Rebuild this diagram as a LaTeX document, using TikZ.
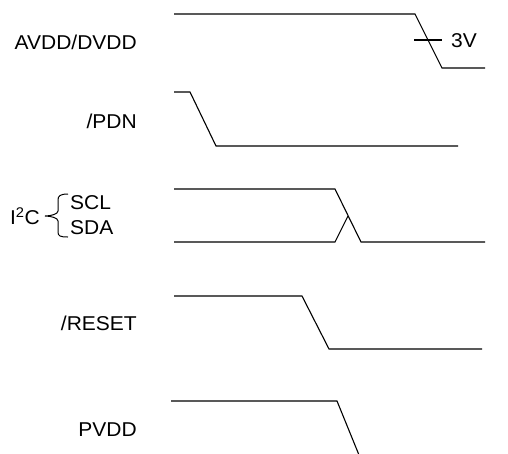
\documentclass[tikz,border=0pt]{standalone}
\usepackage{fontspec}
\setmainfont{Liberation Sans}
\usetikzlibrary{positioning}
\tikzset{
    signame/.style={anchor=east, inner sep=0pt, font=\fontsize{20}{24}\selectfont, xscale=1.05},
    busname/.style={anchor=west, inner sep=0pt, font=\fontsize{20}{24}\selectfont, xscale=1.05},
    wave/.style={draw, line width=1.1pt, line join=miter}
}
\begin{document}
\begin{tikzpicture}[x=1pt, y=-1pt]
    \useasboundingbox (0,0) rectangle (508,453);

    % signal names
    \node[signame] (avdd) at (137,42) {AVDD/DVDD};
    \node[signame] (pdn) at (137,121) {/PDN};
    \node[signame] (reset) at (137,323) {/RESET};
    \node[signame] (pvdd) at (137,430) {PVDD};
    \node[signame] (i2c) at (40,216) {I\textsuperscript{2}C};
    \node[busname] (scl) at (70,203) {SCL};
    \node[busname] (sda) at (70,228) {SDA};
    \node[busname] (volt) at (451,41) {3V};

    % brace
    \draw[line width=1pt] (68,194) .. controls (60,194) and (58,196) .. (58,200)
        -- (58,211) .. controls (58,214) and (51,216) .. (45,216)
        .. controls (51,216) and (58,218) .. (58,221)
        -- (58,232) .. controls (58,236) and (60,237) .. (68,237);

    % waveforms
    \draw[wave] (174,14) -- (415,14) -- (442,68) -- (485,68);
    \draw[wave] (414,40) -- (442,40);
    \draw[wave] (174,92) -- (190,92) -- (216,146) -- (458,146);
    \draw[wave] (174,189) -- (335,189) -- (361,242) -- (485,242);
    \draw[wave] (174,242) -- (335,242) -- (348,216);
    \draw[wave] (174,296) -- (302,296) -- (329,349) -- (482,349);
    \draw[wave] (171,401) -- (337,401) -- (359,455);
\end{tikzpicture}
\end{document}
